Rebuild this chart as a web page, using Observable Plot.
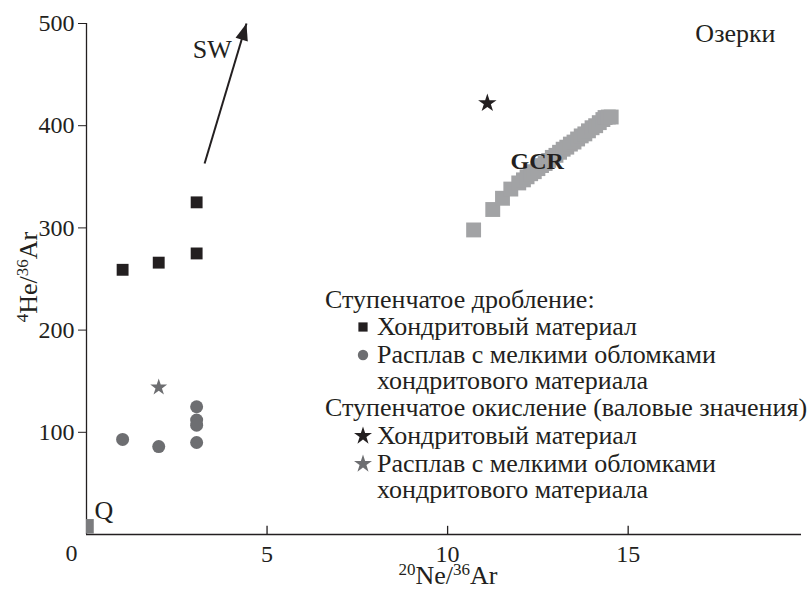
<!DOCTYPE html>
<html>
<head>
<meta charset="utf-8">
<script src="https://cdn.jsdelivr.net/npm/d3@7"></script>
<script src="https://cdn.jsdelivr.net/npm/@observablehq/plot@0.6"></script>
<style>
  body { margin: 0; background: #fff; }
  svg { display: block; }
</style>
</head>
<body>
<div id="chart"></div>
<script>
const FONT = '"Liberation Serif", "Times New Roman", "DejaVu Serif", serif';
const INK = "#231f20";
const GREY = "#6d6e71";
const LIGHT = "#a2a3a5";

// Stepwise crushing — chondritic material (20Ne/36Ar, 4He/36Ar)
const crushChondX = [1.0, 2.0, 3.05, 3.05];
const crushChondY = [259, 266, 275, 325];

// Stepwise crushing — melt with small chondritic fragments
const crushMeltX = [1.0, 2.0, 3.05, 3.05, 3.05, 3.05];
const crushMeltY = [93, 86, 125, 112, 107, 90];

// Stepwise oxidation (bulk values)
const oxChondX = [11.1];
const oxChondY = [422];
const oxMeltX = [2.0];
const oxMeltY = [144];

// Galactic cosmic-ray trend
const gcrX = [10.72, 11.25, 11.52, 11.75, 11.97, 12.1, 12.2, 12.3, 12.4, 12.5, 12.6, 12.7, 12.8, 12.9,
              13.0, 13.1, 13.2, 13.3, 13.4, 13.5, 13.6, 13.7, 13.8, 13.9, 14.0, 14.1, 14.2, 14.3, 14.36, 14.45, 14.53];
const gcrY = [298, 318, 329, 338, 344, 347, 350, 353, 355, 358, 361, 363, 366, 369,
              371, 374, 377, 379, 382, 384, 387, 390, 392, 395, 398, 400, 403, 406, 408, 408.5, 408.5];

// Q (planetary) component
const qX = [0];
const qY = [8];

// Solar-wind direction
const swX = [3.27, 4.43];
const swY = [363, 500];

const xTicks = [5, 10, 15];
const yTicks = [100, 200, 300, 400, 500];

const gcr = gcrX.map((x, i) => ({x, y: gcrY[i]}));
const pts = (xs, ys) => xs.map((x, i) => ({x, y: ys[i]}));

// filled arrowhead with its tip at the origin, pointing up
const arrowHead = {
  draw(context, size) {
    const l = Math.sqrt(size);
    context.moveTo(0, 0);
    context.lineTo(l * 0.4, l * 1.05);
    context.lineTo(-l * 0.4, l * 1.05);
    context.closePath();
  }
};

const plot = Plot.plot({
  width: 811,
  height: 589,
  marginLeft: 86,
  marginRight: 10,
  marginTop: 23,
  marginBottom: 55,
  x: {domain: [0, 19.8]},
  y: {domain: [0, 500]},
  style: {fontFamily: FONT, fontSize: "24px", color: INK, background: "#fff"},
  marks: [
    Plot.ruleY([0], {stroke: INK, strokeWidth: 1.3}),
    Plot.ruleX([0], {stroke: INK, strokeWidth: 1.3}),
    Plot.axisY(yTicks, {tickSize: 8, tickPadding: 4, label: null, fontSize: 24, stroke: INK, fill: INK}),
    Plot.axisX(xTicks, {tickSize: 0, tickPadding: 10, label: null, fontSize: 24, fill: INK}),
    Plot.ruleX(xTicks, {y1: 0, y2: 8, stroke: INK, strokeWidth: 1.3}),
    Plot.text([0], {x: 0, y: 0, text: d => String(d), dx: -15, dy: 19, fontSize: 24, fill: INK}),

    Plot.dot(pts(qX, qY), {x: "x", y: "y", symbol: "square", r: 8.2, fill: "#7b7c7e", clip: "frame"}),
    Plot.dot(gcr, {x: "x", y: "y", symbol: "square", r: 8.4, fill: LIGHT}),
    Plot.dot(pts(crushChondX, crushChondY), {x: "x", y: "y", symbol: "square", r: 6.7, fill: INK}),
    Plot.dot(pts(crushMeltX, crushMeltY), {x: "x", y: "y", symbol: "circle", r: 6.5, fill: GREY}),
    Plot.dot(pts(oxChondX, oxChondY), {x: "x", y: "y", symbol: "star", r: 5.8, fill: INK}),
    Plot.dot(pts(oxMeltX, oxMeltY), {x: "x", y: "y", symbol: "star", r: 5.3, fill: GREY}),

    Plot.link([0], {x1: swX[0], y1: swY[0], x2: swX[1], y2: swY[1], stroke: INK, strokeWidth: 2}),
    Plot.dot([0], {x: swX[1], y: swY[1], symbol: arrowHead, r: 9, fill: INK, stroke: "none", rotate: 16.7}),

    Plot.text(["SW"], {x: 3.48, y: 474, text: d => d, fontSize: 26, fill: INK}),
    Plot.text(["GCR"], {x: 12.48, y: 365, text: d => d, fontSize: 24, fontWeight: "bold", fill: INK}),
    Plot.text(["Озерки"], {x: 17.97, y: 490, text: d => d, fontSize: 26, fill: INK}),
    Plot.text(["Q"], {x: 0.22, y: 23, text: d => d, fontSize: 26, textAnchor: "start", fill: INK})
  ]
});

const svg = d3.select(plot);

// axis titles with superscript isotope numbers
function isoLabel(g, parts) {
  const t = g.append("text").attr("font-family", FONT).attr("font-size", 26).attr("fill", INK)
    .attr("text-anchor", "middle");
  parts.forEach(([sup, base]) => {
    t.append("tspan").attr("font-size", 17).attr("dy", -9).text(sup);
    t.append("tspan").attr("dy", 9).text(base);
  });
  return t;
}
isoLabel(svg.append("g").attr("transform", "translate(448,584)"), [["20", "Ne/"], ["36", "Ar"]]);
isoLabel(svg.append("g").attr("transform", "translate(37,277) rotate(-90)"), [["4", "He/"], ["36", "Ar"]]);

// legend
const legend = svg.append("g").attr("font-family", FONT).attr("font-size", 26)
  .attr("fill", INK).attr("text-anchor", "start");
const rows = [
  {text: "Ступенчатое дробление:", y: 308, x: 325},
  {text: "Хондритовый материал", y: 335, x: 377, sym: "square", color: INK},
  {text: "Расплав с мелкими обломками", y: 363, x: 377, sym: "circle", color: GREY},
  {text: "хондритового материала", y: 389, x: 377},
  {text: "Ступенчатое окисление (валовые значения)", y: 416, x: 325},
  {text: "Хондритовый материал", y: 444, x: 377, sym: "star", color: INK},
  {text: "Расплав с мелкими обломками", y: 472, x: 377, sym: "star", color: GREY},
  {text: "хондритового материала", y: 498, x: 377}
];
const symArea = {square: 85, circle: 85, star: 100};
const symType = {square: d3.symbolSquare, circle: d3.symbolCircle, star: d3.symbolStar};
rows.forEach(r => {
  legend.append("text").attr("x", r.x).attr("y", r.y).text(r.text);
  if (r.sym) {
    legend.append("path")
      .attr("transform", `translate(363,${r.y - 8})`)
      .attr("d", d3.symbol(symType[r.sym], symArea[r.sym])())
      .attr("fill", r.color);
  }
});

document.getElementById("chart").append(plot);
</script>
</body>
</html>
